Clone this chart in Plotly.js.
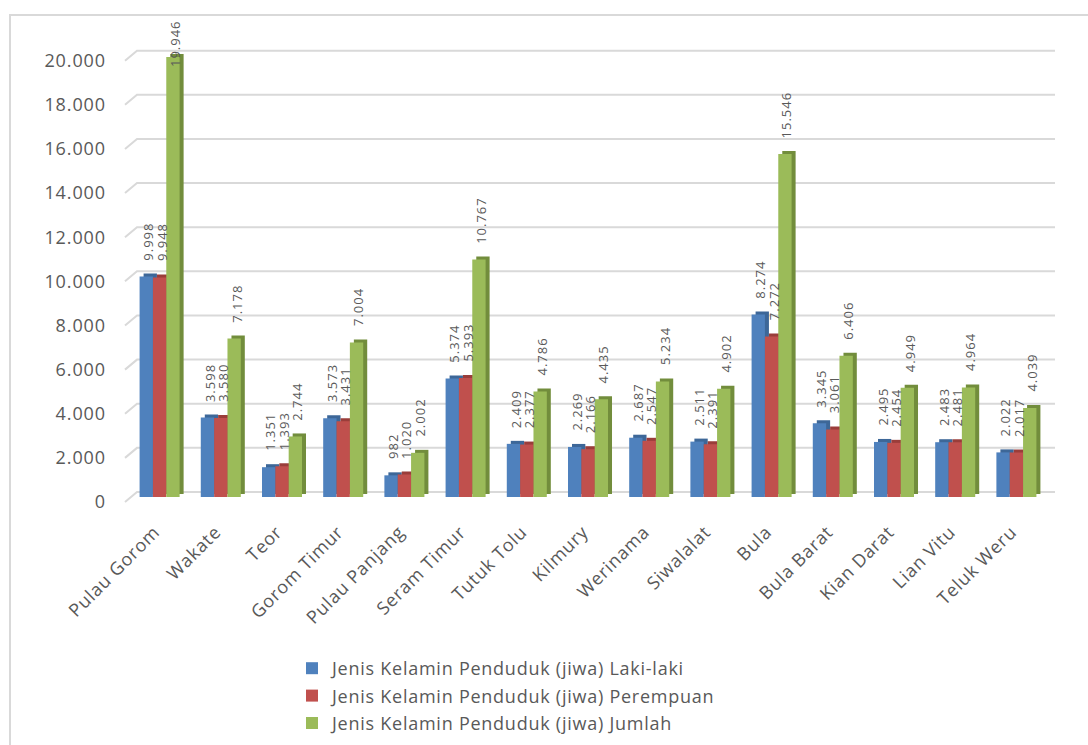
<!DOCTYPE html>
<html>
<head>
<meta charset="utf-8">
<script src="https://cdn.plot.ly/plotly-3.0.1.min.js"></script>
<style>
  html, body { margin: 0; padding: 0; background: #ffffff; }
  #chart { width: 1088px; height: 745px; }
  .ytick text { letter-spacing: 0.9px; }
  .xtick text { letter-spacing: 0.8px; }
  .legendtext { letter-spacing: 0.75px; }
  .annotation-text { letter-spacing: 1px; }
</style>
</head>
<body>
<div id="chart"></div>
<script>
// Kecamatan (districts)
const categories = ['Pulau Gorom', 'Wakate', 'Teor', 'Gorom Timur', 'Pulau Panjang', 'Seram Timur',
  'Tutuk Tolu', 'Kilmury', 'Werinama', 'Siwalalat', 'Bula', 'Bula Barat', 'Kian Darat', 'Lian Vitu', 'Teluk Weru'];

// Population by sex (jiwa)
const lakiLaki  = [9998, 3598, 1351, 3573, 982, 5374, 2409, 2269, 2687, 2511, 8274, 3345, 2495, 2483, 2022];
const perempuan = [9948, 3580, 1393, 3431, 1020, 5393, 2377, 2166, 2547, 2391, 7272, 3061, 2454, 2481, 2017];
const jumlah    = [19946, 7178, 2744, 7004, 2002, 10767, 4786, 4435, 5234, 4902, 15546, 6406, 4949, 4964, 4039];

const seriesNames = [
  'Jenis Kelamin Penduduk (jiwa) Laki-laki',
  'Jenis Kelamin Penduduk (jiwa) Perempuan',
  'Jenis Kelamin Penduduk (jiwa) Jumlah'
];
const seriesValues = [lakiLaki, perempuan, jumlah];
const faceColors = ['#4f81bd', '#c0504d', '#9bbb59'];
const depthColors = ['#3d6798', '#9a3d3a', '#728d3c'];

// y axis ticks
const yTickStart = 0, yTickEnd = 20000, yTickStep = 2000;

// ---- layout geometry ----
const W = 1088, H = 745;
const M = { l: 129, r: 41, t: 30, b: 0 };
const paperW = W - M.l - M.r;
const paperH = H - M.t - M.b;
const plotBottomPx = 497;                          // baseline of the bars
const yDomain0 = (H - M.b - plotBottomPx) / paperH;
const plotH = plotBottomPx - M.t;
const yTop = 21165;                                // axis upper bound
const pxPerUnit = plotH / yTop;
const stepPx = paperW / categories.length;
const barW = 0.218;                                // bar width in category units
const depthX = 4 / stepPx;                         // 3D depth, category units
const depthY = 3 / pxPerUnit;                      // 3D depth, data units
const font = '"Open Sans", "Noto Sans", sans-serif';
const grey = '#595959';

const px2paperX = px => (px - M.l) / paperW;
const px2paperY = py => (H - M.b - py) / paperH;
const valuePx = v => plotBottomPx - v * pxPerUnit;

const fmt = v => String(v).replace(/\B(?=(\d{3})+(?!\d))/g, '.');

// ---- traces: depth (side/top) faces first, then front faces ----
const traces = [];
seriesValues.forEach((vals, s) => {
  traces.push({
    type: 'bar', x: categories, y: vals, base: depthY,
    width: barW, offset: -1.5 * barW + s * barW + depthX,
    marker: { color: depthColors[s], line: { width: 0 } },
    showlegend: false, hoverinfo: 'skip'
  });
});
seriesValues.forEach((vals, s) => {
  traces.push({
    type: 'bar', name: seriesNames[s], x: categories, y: vals,
    width: barW, offset: -1.5 * barW + s * barW,
    marker: { color: faceColors[s], line: { width: 0 } },
    legendgroup: 'g' + s
  });
});

// ---- value labels, rotated, above each bar ----
const annotations = [];
const labelTopLimitPx = 23;
seriesValues.forEach((vals, s) => {
  vals.forEach((v, i) => {
    const txt = fmt(v);
    const labelLen = txt.replace('.', '').length * 8.2 + 4.6;
    const room = valuePx(v) - labelTopLimitPx - labelLen;
    annotations.push({
      x: categories[i], y: v, xref: 'x', yref: 'y',
      text: txt, showarrow: false, textangle: -90,
      xanchor: 'center', yanchor: 'bottom',
      xshift: (s - 1) * barW * stepPx + 2,
      yshift: Math.min(14, room),
      font: { family: font, size: 13, color: grey }
    });
  });
});

// ---- gridlines drawn on the back wall with a slanted front edge ----
const shapes = [];
const xFront = px2paperX(125), xBack = px2paperX(137), xEnd = px2paperX(1055);
for (let v = yTickStart; v <= yTickEnd; v += yTickStep) {
  const py = valuePx(v);
  shapes.push({
    type: 'path', xref: 'paper', yref: 'paper', layer: 'below',
    path: `M ${xFront},${px2paperY(py + 5)} L ${xBack},${px2paperY(py - 5)} L ${xEnd},${px2paperY(py - 5)}`,
    line: { color: '#d9d9d9', width: 2 }
  });
}
// chart area outline (top and left edges)
shapes.push({
  type: 'path', xref: 'paper', yref: 'paper', layer: 'below',
  path: `M ${px2paperX(10)},${px2paperY(H + 5)} L ${px2paperX(10)},${px2paperY(15)} L ${px2paperX(W + 5)},${px2paperY(15)}`,
  line: { color: '#d9d9d9', width: 2 }
});

const layout = {
  width: W, height: H,
  margin: M,
  paper_bgcolor: '#ffffff', plot_bgcolor: 'rgba(0,0,0,0)',
  separators: ',.',
  barmode: 'overlay',
  font: { family: font, color: grey, size: 18 },
  showlegend: true,
  legend: {
    x: px2paperX(292), xanchor: 'left',
    y: px2paperY(742), yanchor: 'bottom',
    orientation: 'v', tracegroupgap: 1,
    font: { family: font, size: 18, color: grey },
    bgcolor: 'rgba(0,0,0,0)'
  },
  xaxis: {
    type: 'category', range: [-0.5, categories.length - 0.5],
    showgrid: false, showline: false, zeroline: false, ticks: '',
    tickangle: -45, ticklabelstandoff: 20, ticklabelshift: -5, automargin: false,
    tickfont: { family: font, size: 18, color: grey }
  },
  yaxis: {
    domain: [yDomain0, 1],
    range: [0, yTop], tick0: yTickStart, dtick: yTickStep, tickformat: ',d',
    showgrid: false, showline: false, zeroline: false, ticks: '',
    ticklabelstandoff: 22, ticklabelshift: 5, automargin: false,
    tickfont: { family: font, size: 18, color: grey }
  },
  shapes: shapes,
  annotations: annotations
};

Plotly.newPlot('chart', traces, layout, { displayModeBar: false, staticPlot: true });
</script>
</body>
</html>
